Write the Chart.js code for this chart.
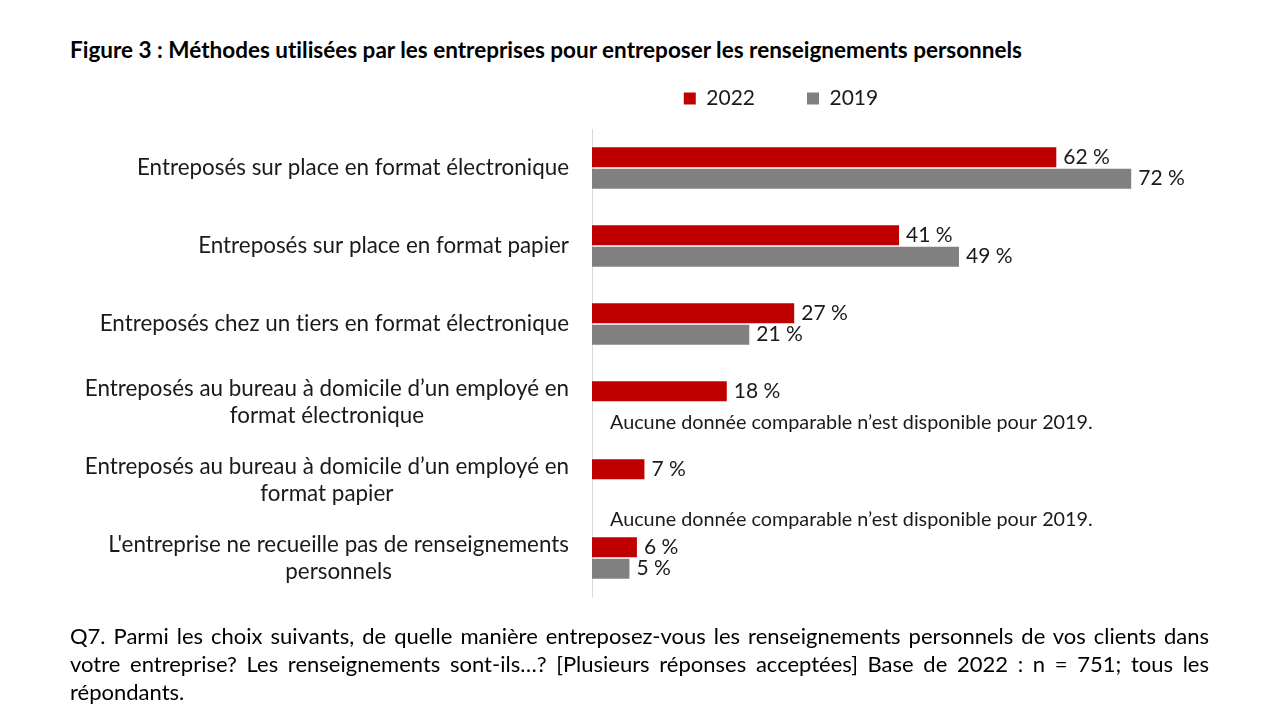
<!DOCTYPE html>
<html lang="fr">
<head>
<meta charset="utf-8">
<title>Figure 3</title>
<script src="https://cdn.jsdelivr.net/npm/chart.js@4.4.0/dist/chart.umd.min.js"></script>
<style>
  body { margin: 0; background: #fff; font-family: Lato, "Liberation Sans", sans-serif; color: #000; font-variant-ligatures: none; }
  #page { position: relative; width: 1280px; height: 720px; overflow: hidden; }
  #titre { position: absolute; left: 70px; top: 38px; font-size: 22.5px; line-height: 24px; font-weight: bold; white-space: nowrap; }
  #zone { position: absolute; left: 0; top: 0; width: 1280px; height: 720px; }
  #note { position: absolute; left: 70px; top: 622px; width: 1139px; font-size: 22px; line-height: 28px; }
  #note .j { text-align: justify; text-align-last: justify; white-space: nowrap; }
</style>
</head>
<body>
<div id="page">
  <div id="titre">Figure 3 : Méthodes utilisées par les entreprises pour entreposer les renseignements personnels</div>
  <div id="zone"><canvas id="graphique"></canvas></div>
  <div id="note">
    <div class="j">Q7. Parmi les choix suivants, de quelle manière entreposez-vous les renseignements personnels de vos clients dans</div>
    <div class="j">votre entreprise? Les renseignements sont-ils…? [Plusieurs réponses acceptées] Base de 2022 : n = 751; tous les</div>
    <div>répondants.</div>
  </div>
</div>
<script>
const categories = [
  'Entreposés sur place en format électronique',
  'Entreposés sur place en format papier',
  'Entreposés chez un tiers en format électronique',
  ['Entreposés au bureau à domicile d’un employé en', 'format électronique'],
  ['Entreposés au bureau à domicile d’un employé en', 'format papier'],
  ["L'entreprise ne recueille pas de renseignements", 'personnels']
];
const seriesNames = ['2022', '2019'];
const values2022 = [62, 41, 27, 18, 7, 6];
const values2019 = [72, 49, 21, null, null, 5];
const noDataText = 'Aucune donnée comparable n’est disponible pour 2019.';
const noDataRows = [3, 4];

const ROUGE = '#C00000', GRIS = '#808080', TEXTE = '#1a1a1a';
const noteShift = { 3: 21, 4: 40 }; // décalage vertical des mentions

// étiquettes des catégories, valeurs et mentions
const etiquettes = {
  id: 'etiquettes',
  afterDatasetsDraw(chart) {
    const ctx = chart.ctx, ys = chart.scales.y, xs = chart.scales.x;
    ctx.save();
    ctx.textBaseline = 'middle';
    ctx.fillStyle = TEXTE;

    // catégories : bloc aligné à droite, lignes centrées entre elles
    ctx.font = '22.4px Lato, "Liberation Sans", sans-serif';
    ctx.textAlign = 'center';
    chart.data.labels.forEach((lab, i) => {
      const lignes = Array.isArray(lab) ? lab : [lab];
      const w = Math.max(...lignes.map(l => ctx.measureText(l).width));
      const cx = chart.chartArea.left - 23 - w / 2;
      const cy = ys.getPixelForTick(i);
      lignes.forEach((l, k) => ctx.fillText(l, cx, cy + (k - (lignes.length - 1) / 2) * 27));
    });

    // valeurs au bout des barres
    ctx.font = '21px Lato, "Liberation Sans", sans-serif';
    ctx.textAlign = 'left';
    chart.data.datasets.forEach((ds, d) => {
      chart.getDatasetMeta(d).data.forEach((bar, i) => {
        if (ds.data[i] == null) return;
        ctx.fillText(ds.data[i] + ' %', bar.x + 7, bar.y);
      });
    });

    // mentions « aucune donnée »
    ctx.font = '19.8px Lato, "Liberation Sans", sans-serif';
    noDataRows.forEach(i => {
      ctx.fillText(noDataText, xs.getPixelForValue(0) + 18, ys.getPixelForTick(i) + noteShift[i]);
    });
    ctx.restore();
  }
};

const ctx = document.getElementById('graphique').getContext('2d');
new Chart(ctx, {
  type: 'bar',
  data: {
    labels: categories,
    datasets: [
      { label: seriesNames[0], data: values2022, backgroundColor: ROUGE },
      { label: seriesNames[1], data: values2019, backgroundColor: GRIS }
    ]
  },
  options: {
    indexAxis: 'y',
    responsive: true,
    maintainAspectRatio: false,
    animation: false,
    datasets: { bar: { categoryPercentage: 0.55, barPercentage: 0.93 } },
    layout: { padding: { top: 36, left: 296, right: 14, bottom: 123 } },
    plugins: {
      legend: {
        position: 'top',
        labels: {
          boxWidth: 12,
          boxHeight: 12,
          padding: 52,
          color: TEXTE,
          font: { family: 'Lato, "Liberation Sans", sans-serif', size: 21 }
        }
      },
      tooltip: { enabled: false }
    },
    scales: {
      x: {
        position: 'top',
        min: 0,
        max: 90,
        ticks: { display: false },
        grid: { display: false, drawTicks: true, tickLength: 10 },
        border: { display: false }
      },
      y: {
        ticks: { display: false },
        grid: { display: false },
        border: { display: true, color: '#d9d9d9', width: 1 },
        afterFit(scale) { scale.width = 296; }
      }
    }
  },
  plugins: [etiquettes]
});
</script>
</body>
</html>
